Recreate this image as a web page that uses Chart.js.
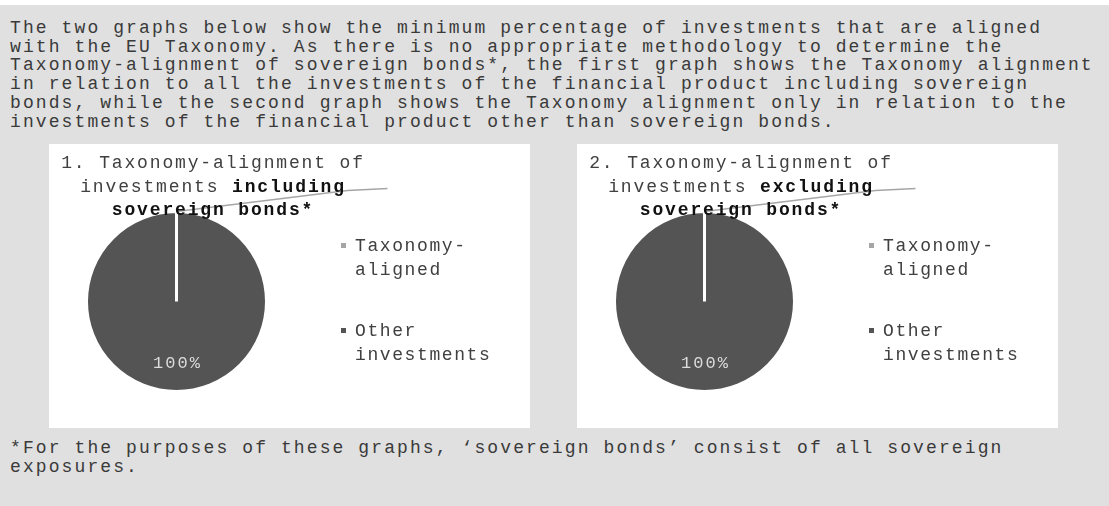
<!DOCTYPE html>
<html>
<head>
<meta charset="utf-8">
<script src="https://cdn.jsdelivr.net/npm/chart.js@4/dist/chart.umd.min.js"></script>
<style>
  html, body { margin: 0; padding: 0; background: #ffffff; }
  #page { position: absolute; left: 0; top: 5px; width: 1109px; height: 501px; background: #e0e0e0; }
  .txt { position: absolute; font-family: "Courier New", "Nimbus Mono PS", "FreeMono", "Liberation Mono", monospace; font-size: 18px; letter-spacing: 2.1px; line-height: 18.7px; color: #3a3a3a; white-space: pre; }
  .box { position: absolute; top: 144px; width: 481px; height: 284px; background: #ffffff; }
  .box canvas { display: block; }
</style>
</head>
<body>
<div id="page"></div>
<div class="txt" id="intro" style="left:10px; top:19px;"></div>
<div class="box" id="box1" style="left:49px;"><canvas id="c1" width="481" height="284"></canvas></div>
<div class="box" id="box2" style="left:577px;"><canvas id="c2" width="481" height="284"></canvas></div>
<div class="txt" id="foot" style="left:10px; top:439px;"></div>
<script>
// ---- data ----
const introLines = [
  "The two graphs below show the minimum percentage of investments that are aligned",
  "with the EU Taxonomy. As there is no appropriate methodology to determine the",
  "Taxonomy-alignment of sovereign bonds*, the first graph shows the Taxonomy alignment",
  "in relation to all the investments of the financial product including sovereign",
  "bonds, while the second graph shows the Taxonomy alignment only in relation to the",
  "investments of the financial product other than sovereign bonds."
];
const footLines = [
  "*For the purposes of these graphs, \u2018sovereign bonds\u2019 consist of all sovereign",
  "exposures."
];
const categories = ["Taxonomy-aligned", "Other investments"];
const valuesIncluding = [0, 100];
const valuesExcluding = [0, 100];
const title1 = [[["1. Taxonomy-alignment of", false]], [["investments ", false], ["including", true]], [["sovereign bonds*", true]]];
const title2 = [[["2. Taxonomy-alignment of", false]], [["investments ", false], ["excluding", true]], [["sovereign bonds*", true]]];
const colors = ["#a5a5a5", "#545454"];

document.getElementById('intro').textContent = introLines.join("\n");
document.getElementById('foot').textContent = footLines.join("\n");

const FONT = '"Courier New", "Nimbus Mono PS", "FreeMono", "Liberation Mono", monospace';

function wrapLabel(s) {
  const i = s.indexOf('-');
  if (i >= 0) return [s.slice(0, i + 1), s.slice(i + 1)];
  const j = s.indexOf(' ');
  if (j >= 0) return [s.slice(0, j), s.slice(j + 1)];
  return [s];
}

const CHAR_W = 12.65;

const decorPlugin = {
  id: 'decor',
  afterDatasetsDraw(chart, args, opts) {
    const ctx = chart.ctx;
    const meta = chart.getDatasetMeta(0);
    const ds = chart.data.datasets[0];
    const total = ds.data.reduce((a, b) => a + b, 0);
    ctx.save();
    // leader line for the zero slice
    const a0 = meta.data[0];
    const p0 = a0.getProps(['x', 'y', 'startAngle', 'endAngle', 'outerRadius'], true);
    const mid0 = (p0.startAngle + p0.endAngle) / 2;
    const sx = p0.x + Math.cos(mid0) * p0.outerRadius;
    const sy = p0.y + Math.sin(mid0) * p0.outerRadius;
    ctx.strokeStyle = '#a6a6a6';
    ctx.lineWidth = 1.5;
    ctx.beginPath();
    ctx.moveTo(sx, sy);
    ctx.lineTo(sx + 171, sy - 21);
    ctx.lineTo(sx + 211, sy - 23);
    ctx.stroke();
    // percentage labels for non-zero slices
    ctx.font = '17px ' + FONT;
    ctx.letterSpacing = '2px';
    ctx.fillStyle = '#dcdcdc';
    ctx.textAlign = 'left';
    ctx.textBaseline = 'middle';
    meta.data.forEach((arc, i) => {
      const v = ds.data[i];
      if (!v) return;
      const p = arc.getProps(['x', 'y', 'startAngle', 'endAngle', 'outerRadius'], true);
      const m = (p.startAngle + p.endAngle) / 2;
      const r = p.outerRadius * 0.68;
      const s = Math.round(v / total * 100) + '%';
      const w = s.length * 12.2 - 2;
      ctx.fillText(s, p.x + Math.cos(m) * r - w / 2, p.y + Math.sin(m) * r + 1);
    });
    // legend
    ctx.textBaseline = 'alphabetic';
    ctx.font = '18px ' + FONT;
    ctx.letterSpacing = '1.6px';
    const lx = 292, tx = 306;
    const itemTops = [107, 192];
    chart.data.labels.forEach((lab, i) => {
      const lines = wrapLabel(lab);
      const by = itemTops[i];
      ctx.fillStyle = ds.backgroundColor[i];
      ctx.fillRect(lx, by - 8, 5, 5);
      ctx.fillStyle = '#404040';
      lines.forEach((ln, k) => ctx.fillText(ln, tx, by + k * 24));
    });
    // title
    const t = opts.title;
    const cx = 164;
    const bases = [24, 48, 71];
    ctx.letterSpacing = '1.85px';
    t.forEach((segs, li) => {
      let n = 0;
      segs.forEach(([s]) => { n += s.length; });
      let x = cx - n * CHAR_W / 2;
      segs.forEach(([s, b]) => {
        ctx.font = (b ? 'bold ' : '') + '18px ' + FONT;
        ctx.fillStyle = b ? '#111111' : '#404040';
        ctx.fillText(s, x, bases[li]);
        x += s.length * CHAR_W;
      });
    });
    ctx.restore();
  }
};

function makeChart(id, values, title) {
  return new Chart(document.getElementById(id), {
    type: 'pie',
    data: {
      labels: categories,
      datasets: [{ data: values, backgroundColor: colors, borderColor: '#ffffff', borderWidth: 3 }]
    },
    options: {
      responsive: false,
      animation: false,
      layout: { padding: { left: 36, right: 262, top: 66, bottom: 35 } },
      plugins: { legend: { display: false }, tooltip: { enabled: false }, title: { display: false }, decor: { title: title } }
    },
    plugins: [decorPlugin]
  });
}
makeChart('c1', valuesIncluding, title1);
makeChart('c2', valuesExcluding, title2);
</script>
</body>
</html>
